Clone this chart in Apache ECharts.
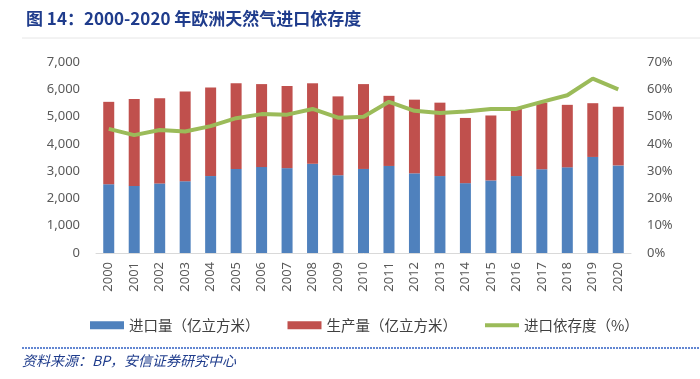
<!DOCTYPE html>
<html>
<head>
<meta charset="utf-8">
<script src="https://cdn.jsdelivr.net/npm/echarts@6/dist/echarts.min.js"></script>
<style>
html,body{margin:0;padding:0;background:#fff;}
#chart{width:700px;height:379px;}
</style>
</head>
<body>
<div id="chart"></div>
<script>
const years = ['2000','2001','2002','2003','2004','2005','2006','2007','2008','2009','2010','2011','2012','2013','2014','2015','2016','2017','2018','2019','2020'];
const importVol = [2520,2460,2550,2630,2820,3080,3150,3110,3270,2850,3080,3190,2920,2820,2560,2660,2820,3070,3140,3520,3210];
const productionVol = [3020,3180,3120,3290,3250,3140,3040,3010,2950,2890,3110,2570,2700,2690,2390,2380,2470,2440,2290,1970,2150];
const dependency = [45.5,43.2,45.1,44.5,46.5,49.4,50.9,50.7,52.8,49.6,49.9,55.4,52.1,51.3,51.9,52.8,52.8,55.4,57.8,63.9,60.0];
const leftTicks = [0,1000,2000,3000,4000,5000,6000,7000];
const rightTicks = [0,10,20,30,40,50,60,70];

const chart = echarts.init(document.getElementById('chart'), null, {renderer:'canvas'});
const axisFont = {color:'#595959', fontSize:13, fontFamily:'Noto Sans, sans-serif'};
chart.setOption({
  animation:false,
  backgroundColor:'#fff',
  title:{
    text:'图 14：2000-2020 年欧洲天然气进口依存度',
    left:21, top:5,
    textStyle:{color:'#1f3c8c', fontSize:17, fontWeight:'bold', fontFamily:'Noto Sans CJK SC, sans-serif'}
  },
  graphic:[
    {type:'line', shape:{x1:22,y1:38,x2:700,y2:38}, style:{stroke:'#e6e6e6', lineWidth:1}},
    {type:'line', shape:{x1:22,y1:348,x2:700,y2:348}, style:{stroke:'#2f5fc4', lineWidth:1.5, lineDash:[2,1]}},
    {type:'text', left:22, top:354, style:{text:'资料来源：BP，安信证券研究中心', fill:'#1f3c8c', font:'italic 14px "Noto Sans CJK SC", sans-serif'}}
  ],
  legend:{
    left:85, top:313,
    itemWidth:34, itemHeight:8, itemGap:28,
    textStyle:{color:'#404040', fontSize:14.5, fontFamily:'Noto Sans CJK SC, sans-serif'},
    data:[
      {name:'进口量（亿立方米）', icon:'rect'},
      {name:'生产量（亿立方米）', icon:'rect'},
      {name:'进口依存度（%）', icon:'path://M0,0L34,0L34,4L0,4Z', itemStyle:{color:'#9bbb59'}}
    ]
  },
  grid:{left:96, right:69, top:62, bottom:126, containLabel:false},
  xAxis:{
    type:'category', data:years,
    axisLine:{lineStyle:{color:'#d9d9d9', width:1}},
    axisTick:{show:false},
    axisLabel:Object.assign({rotate:90, margin:9, interval:0}, axisFont)
  },
  yAxis:[
    {type:'value', min:leftTicks[0], max:leftTicks[leftTicks.length-1], interval:1000,
     splitLine:{show:false}, axisLine:{show:false}, axisTick:{show:false},
     axisLabel:Object.assign({margin:16, formatter:v=>v.toLocaleString('en-US')}, axisFont)},
    {type:'value', min:rightTicks[0], max:rightTicks[rightTicks.length-1], interval:10,
     splitLine:{show:false}, axisLine:{show:false}, axisTick:{show:false},
     axisLabel:Object.assign({margin:16, formatter:v=>v+'%'}, axisFont)}
  ],
  series:[
    {name:'进口量（亿立方米）', type:'bar', stack:'a', data:importVol, barWidth:11,
     itemStyle:{color:'#4f81bd'}},
    {name:'生产量（亿立方米）', type:'bar', stack:'a', data:productionVol, barWidth:11,
     itemStyle:{color:'#c0504d'}},
    {name:'进口依存度（%）', type:'line', yAxisIndex:1, data:dependency, symbol:'none', showSymbol:false,
     lineStyle:{color:'#9bbb59', width:4}, itemStyle:{color:'#9bbb59'}}
  ]
});
</script>
</body>
</html>
